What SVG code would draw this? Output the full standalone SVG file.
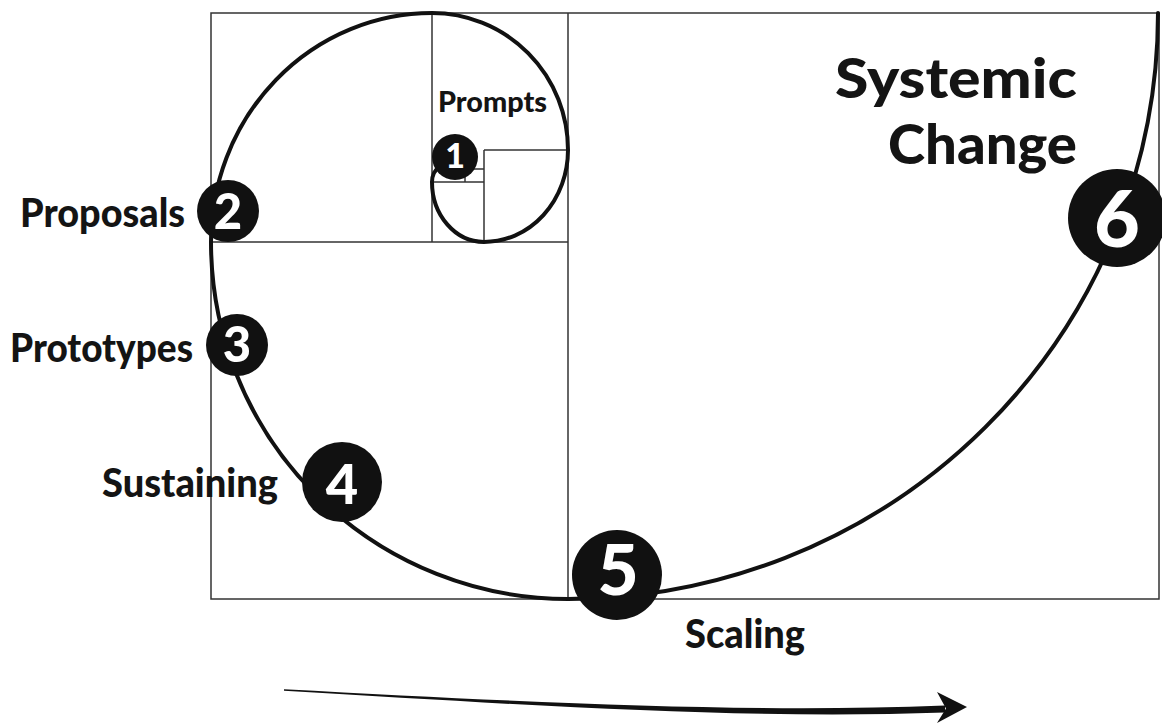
<svg xmlns="http://www.w3.org/2000/svg" width="1162" height="723" viewBox="0 0 1162 723">
<style>
.frame{fill:none;stroke:#333;stroke-width:1.5}
.spiral{fill:none;stroke:#111;stroke-width:4;stroke-linecap:round;stroke-linejoin:round}
.dot{fill:#111}
.num{font-family:Lato,"Open Sans","Liberation Sans",sans-serif;font-weight:900;fill:#fff;text-anchor:middle}
.lbl{font-family:Lato,"Open Sans","Liberation Sans",sans-serif;font-weight:900;fill:#141414}
</style>
<rect width="1162" height="723" fill="#fff"/>
<g id="grid">
<rect class="frame" x="211" y="13" width="948" height="586"/>
<line class="frame" x1="568" y1="13" x2="568" y2="599"/>
<line class="frame" x1="211" y1="242" x2="568" y2="242"/>
<line class="frame" x1="432" y1="13" x2="432" y2="242"/>
<line class="frame" x1="484" y1="150" x2="568" y2="150"/>
<line class="frame" x1="484" y1="150" x2="484" y2="242"/>
<line class="frame" x1="432" y1="182" x2="484" y2="182"/>
<line class="frame" x1="465" y1="169" x2="465" y2="182"/>
<line class="frame" x1="465" y1="169" x2="484" y2="169"/>
</g>
<g id="connectors">
<path class="spiral" d="M440,166 Q432,172 432,182 A52,60 0 0 0 484,242 A84,92 0 0 0 568,150 A136,137 0 0 0 432,13 A221,229 0 0 0 211,242 A357,357 0 0 0 568,599 A590,586 0 0 0 1158,13"/>
<path id="arrow-shaft" fill="#111" d="M284,689.2 C550,703.5 750,713 945,705.5 L945,712.5 C750,719.5 550,706.5 284,690.8 Z"/>
<path id="arrow-head" fill="#111" d="M967,707 L937,692 L946,708.5 L937,723 Z"/>
</g>
<g id="node1"><circle class="dot" cx="455" cy="157" r="23"/><text class="num" x="455" y="168" font-size="34">1</text></g>
<g id="node1-label"><text class="lbl" x="438" y="112" font-size="29" textLength="109" lengthAdjust="spacingAndGlyphs">Prompts</text></g>
<g id="node2"><circle class="dot" cx="228" cy="211" r="31"/><text class="num" x="228" y="229" font-size="49">2</text></g>
<g id="node2-label"><text class="lbl" x="20" y="227" font-size="40" textLength="165" lengthAdjust="spacingAndGlyphs">Proposals</text></g>
<g id="node3"><circle class="dot" cx="237" cy="345" r="31"/><text class="num" x="237" y="362" font-size="49">3</text></g>
<g id="node3-label"><text class="lbl" x="10" y="362" font-size="40" textLength="183" lengthAdjust="spacingAndGlyphs">Prototypes</text></g>
<g id="node4"><circle class="dot" cx="342" cy="482" r="40"/><text class="num" x="342" y="504" font-size="56">4</text></g>
<g id="node4-label"><text class="lbl" x="102" y="497" font-size="40" textLength="176" lengthAdjust="spacingAndGlyphs">Sustaining</text></g>
<g id="node5"><circle class="dot" cx="617" cy="575" r="45"/><text class="num" x="618" y="595" font-size="71">5</text></g>
<g id="node5-label"><text class="lbl" x="685" y="648" font-size="40" textLength="120" lengthAdjust="spacingAndGlyphs">Scaling</text></g>
<g id="node6"><circle class="dot" cx="1117" cy="218" r="49"/><text class="num" x="1117" y="247" font-size="79">6</text></g>
<g id="node6-label">
<text class="lbl" x="835" y="98" font-size="55" textLength="242" lengthAdjust="spacingAndGlyphs">Systemic</text>
<text class="lbl" x="888" y="164" font-size="55" textLength="189" lengthAdjust="spacingAndGlyphs">Change</text>
</g>
</svg>
